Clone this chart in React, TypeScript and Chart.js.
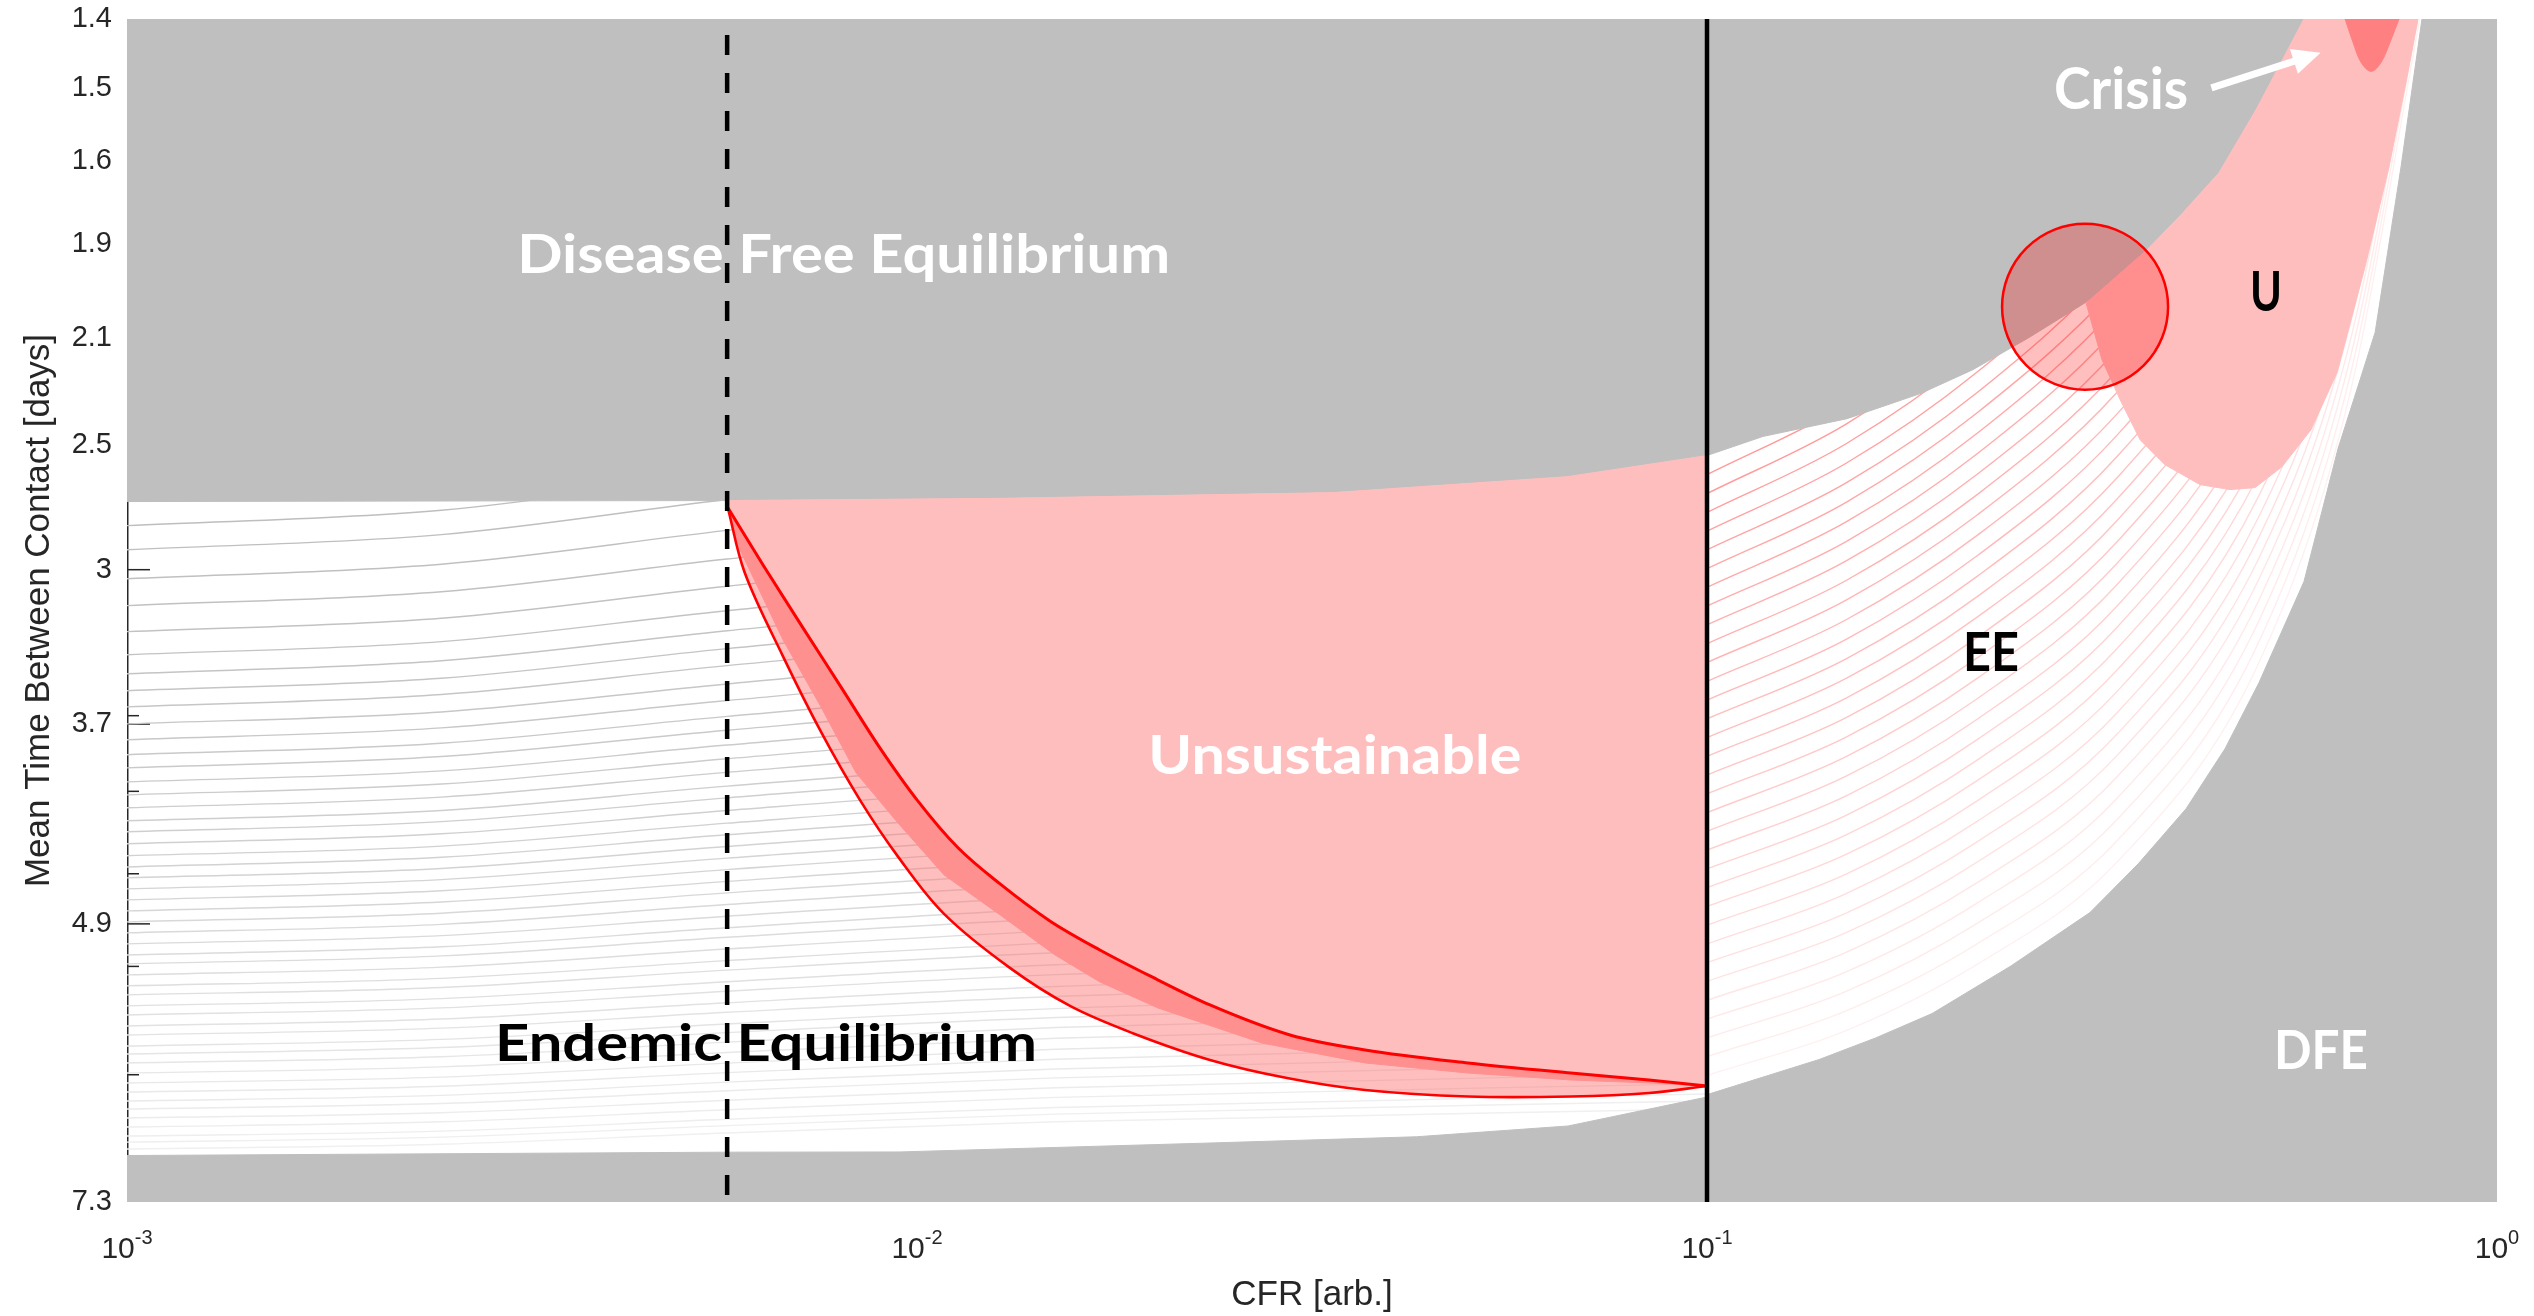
import React, { useEffect, useRef } from 'react';
import { Chart, registerables, LinearScale } from 'chart.js';

Chart.register(...registerables);

// ---------------- Axis ticks ----------------
const X_TICKS = [0.001, 0.01, 0.1, 1];
const X_TICK_EXPONENTS = ['-3', '-2', '-1', '0'];
const Y_TICK_DAYS = [1.4, 1.5, 1.6, 1.9, 2.1, 2.5, 3, 3.7, 4.9, 7.3];
const Y_TICK_LABELS = ['1.4', '1.5', '1.6', '1.9', '2.1', '2.5', '3', '3.7', '4.9', '7.3'];
// position of each labelled tick along the (non-uniform) y axis, 0 = top, 1 = bottom
const Y_TICK_AXIS_FRACTION = [0, 0.0582, 0.1203, 0.1904, 0.2693, 0.3604, 0.4655, 0.596, 0.7649, 1];
const Y_MINOR_TICK_DAYS = [3.662, 4.104, 4.599, 5.267, 6.202];

// ---------------- Regions: [CFR, days] ----------------
const DFE_UPPER: number[][] = [
  [0.001, 1.4], [0.001, 2.726], [0.00575, 2.722], [0.01274, 2.713], [0.03362, 2.69],
  [0.06651, 2.626], [0.1, 2.541], [0.1177, 2.467], [0.1504, 2.401], [0.1866, 2.307],
  [0.2171, 2.219], [0.2556, 2.1], [0.3053, 2.019], [0.3606, 1.912], [0.4004, 1.786],
  [0.4448, 1.641], [0.4953, 1.53], [0.5697, 1.4],
];
const DFE_LOWER: number[][] = [
  [0.8036, 1.4], [0.7561, 1.619], [0.701, 2.089], [0.671, 2.256], [0.6292, 2.513],
  [0.5697, 3.054], [0.4996, 3.513], [0.4526, 3.848], [0.404, 4.209], [0.3513, 4.54],
  [0.3053, 4.832], [0.2425, 5.263], [0.1927, 5.674], [0.1635, 5.884], [0.1387, 6.07],
  [0.1006, 6.368], [0.1, 6.394], [0.06672, 6.644], [0.04289, 6.737], [0.02349, 6.791],
  [0.009517, 6.868], [0.00575, 6.87], [0.001, 6.899], [0.001, 7.3], [1, 7.3], [1, 1.4],
];
const UNSUSTAINABLE_TOP: number[][] = [
  [0.00575, 2.722], [0.01274, 2.713], [0.03362, 2.69], [0.06651, 2.626], [0.1, 2.541],
];
const UPPER_RED: number[][] = [
  [0.00576, 2.75], [0.006402, 2.987], [0.007152, 3.257], [0.008003, 3.529], [0.008952, 3.835],
  [0.01, 4.155], [0.01127, 4.443], [0.01274, 4.66], [0.01473, 4.882], [0.01704, 5.125],
  [0.01972, 5.349], [0.02349, 5.6], [0.02966, 5.859], [0.03691, 5.988], [0.04983, 6.1],
  [0.06726, 6.187], [0.08445, 6.247], [0.1, 6.299],
];
const LOWER_RED: number[][] = [
  [0.00576, 2.75], [0.006053, 3.014], [0.006767, 3.393], [0.007569, 3.752], [0.008466, 4.155],
  [0.009461, 4.496], [0.01082, 4.84], [0.01311, 5.28], [0.01562, 5.608], [0.01872, 5.841],
  [0.02349, 6.074], [0.0294, 6.23], [0.03691, 6.333], [0.04983, 6.39], [0.06726, 6.39],
  [0.08445, 6.36], [0.1, 6.299],
];
const BAND_EDGE: number[][] = [
  [0.00576, 2.75], [0.005969, 2.92], [0.006767, 3.318], [0.007558, 3.622], [0.008373, 3.993],
  [0.009461, 4.294], [0.01082, 4.606], [0.01274, 4.846], [0.01495, 5.168], [0.01704, 5.401],
  [0.02018, 5.625], [0.02733, 5.928], [0.03691, 6.1], [0.04983, 6.187], [0.06726, 6.247],
  [0.08445, 6.273], [0.1, 6.299],
];
const U_REGION: number[][] = [
  [0.5697, 1.4], [0.4953, 1.53], [0.4448, 1.641], [0.4004, 1.786], [0.3606, 1.912],
  [0.3053, 2.019], [0.3018, 2.025], [0.3162, 2.182], [0.3333, 2.33], [0.3533, 2.479],
  [0.3799, 2.578], [0.4209, 2.658], [0.4592, 2.678], [0.4939, 2.67], [0.5343, 2.586],
  [0.5815, 2.442], [0.6274, 2.23], [0.6808, 1.948], [0.7301, 1.619], [0.7671, 1.492],
  [0.7943, 1.4],
];
const CRISIS: number[][] = [
  [0.6422, 1.4], [0.6573, 1.434], [0.6729, 1.463], [0.6928, 1.476], [0.7133, 1.463],
  [0.7343, 1.43], [0.7516, 1.4],
];
const CIRCLE_CENTER = [0.301, 2.034];
const DASHED_CFR = 0.00575;
const SOLID_CFR = 0.1;

// ---------------- Contour lines ----------------
const LEFT_CONTOUR_CFR = [0.001, 0.0025, 0.00575, 0.015, 0.1];
const LEFT_CONTOURS: number[][] = [
  [2.823, 2.761, 2.616, 2.474, 2.321], [2.92, 2.859, 2.718, 2.578, 2.423],
  [3.041, 2.978, 2.842, 2.705, 2.549], [3.163, 3.1, 2.957, 2.825, 2.674],
  [3.281, 3.22, 3.075, 2.939, 2.793], [3.386, 3.326, 3.186, 3.046, 2.899],
  [3.472, 3.413, 3.277, 3.14, 2.986], [3.549, 3.492, 3.358, 3.225, 3.073],
  [3.622, 3.566, 3.435, 3.304, 3.156], [3.699, 3.645, 3.518, 3.389, 3.244],
  [3.794, 3.723, 3.593, 3.469, 3.327], [3.884, 3.815, 3.665, 3.543, 3.404],
  [3.963, 3.895, 3.737, 3.608, 3.472], [4.047, 3.981, 3.826, 3.677, 3.544],
  [4.125, 4.06, 3.908, 3.756, 3.612], [4.203, 4.139, 3.99, 3.841, 3.678],
  [4.281, 4.219, 4.073, 3.928, 3.761], [4.347, 4.286, 4.143, 4.0, 3.836],
  [4.419, 4.359, 4.219, 4.079, 3.919], [4.491, 4.433, 4.295, 4.157, 4.0],
  [4.558, 4.5, 4.365, 4.231, 4.077], [4.624, 4.567, 4.435, 4.303, 4.152],
  [4.69, 4.634, 4.505, 4.375, 4.227], [4.756, 4.701, 4.574, 4.448, 4.302],
  [4.822, 4.769, 4.645, 4.521, 4.379], [4.888, 4.836, 4.714, 4.593, 4.454],
  [4.978, 4.904, 4.784, 4.665, 4.529], [5.073, 5.001, 4.854, 4.737, 4.604],
  [5.168, 5.098, 4.934, 4.809, 4.679], [5.245, 5.176, 5.016, 4.869, 4.741],
  [5.34, 5.273, 5.117, 4.96, 4.818], [5.435, 5.37, 5.217, 5.064, 4.893],
  [5.513, 5.449, 5.299, 5.149, 4.978], [5.608, 5.545, 5.399, 5.253, 5.086],
  [5.686, 5.625, 5.481, 5.338, 5.175], [5.781, 5.721, 5.581, 5.441, 5.283],
  [5.859, 5.8, 5.663, 5.527, 5.371], [5.954, 5.897, 5.764, 5.631, 5.479],
  [6.023, 5.967, 5.838, 5.708, 5.561], [6.1, 6.046, 5.92, 5.794, 5.65],
  [6.187, 6.134, 6.01, 5.887, 5.746], [6.273, 6.222, 6.102, 5.982, 5.846],
  [6.351, 6.301, 6.184, 6.068, 5.935], [6.428, 6.38, 6.266, 6.152, 6.023],
  [6.498, 6.45, 6.34, 6.229, 6.103], [6.575, 6.53, 6.422, 6.314, 6.191],
  [6.653, 6.608, 6.504, 6.397, 6.28], [6.731, 6.688, 6.586, 6.484, 6.368],
  [6.783, 6.74, 6.641, 6.542, 6.428], [6.843, 6.802, 6.705, 6.608, 6.498],
];
const RIGHT_CONTOUR_CFR = [0.1, 0.15, 0.22, 0.33, 0.5, 0.65, 0.8];
const RIGHT_CONTOURS: number[][] = [
  [2.618, 2.349, 2.042, 1.666, 1.363, 1.149, 0.931], [2.694, 2.421, 2.086, 1.743, 1.394, 1.173, 0.946],
  [2.77, 2.494, 2.151, 1.82, 1.424, 1.198, 0.96], [2.845, 2.572, 2.227, 1.897, 1.454, 1.224, 0.975],
  [2.92, 2.651, 2.303, 1.944, 1.485, 1.249, 0.989], [2.996, 2.729, 2.378, 1.99, 1.514, 1.274, 1.004],
  [3.08, 2.808, 2.454, 2.035, 1.543, 1.299, 1.018], [3.165, 2.887, 2.533, 2.081, 1.571, 1.324, 1.033],
  [3.25, 2.965, 2.615, 2.147, 1.599, 1.349, 1.047], [3.336, 3.049, 2.697, 2.226, 1.674, 1.374, 1.062],
  [3.421, 3.138, 2.779, 2.305, 1.749, 1.399, 1.076], [3.506, 3.227, 2.861, 2.385, 1.825, 1.424, 1.09],
  [3.591, 3.316, 2.943, 2.464, 1.9, 1.449, 1.105], [3.676, 3.404, 3.029, 2.547, 1.945, 1.474, 1.119],
  [3.781, 3.493, 3.121, 2.632, 1.99, 1.499, 1.134], [3.894, 3.582, 3.214, 2.718, 2.035, 1.522, 1.148],
  [4.006, 3.671, 3.306, 2.804, 2.079, 1.546, 1.163], [4.119, 3.778, 3.399, 2.89, 2.142, 1.569, 1.177],
  [4.232, 3.896, 3.492, 2.976, 2.219, 1.592, 1.192], [4.344, 4.013, 3.584, 3.069, 2.297, 1.642, 1.206],
  [4.457, 4.131, 3.677, 3.167, 2.374, 1.704, 1.221], [4.57, 4.248, 3.792, 3.263, 2.452, 1.766, 1.235],
  [4.683, 4.366, 3.915, 3.36, 2.531, 1.828, 1.249], [4.795, 4.483, 4.038, 3.457, 2.615, 1.891, 1.264],
  [4.911, 4.601, 4.16, 3.554, 2.7, 1.932, 1.278], [5.074, 4.718, 4.283, 3.651, 2.784, 1.968, 1.293],
  [5.235, 4.836, 4.406, 3.763, 2.867, 2.005, 1.307], [5.397, 4.976, 4.528, 3.891, 2.951, 2.042, 1.321],
  [5.559, 5.145, 4.651, 4.019, 3.04, 2.079, 1.336], [5.721, 5.314, 4.774, 4.148, 3.135, 2.127, 1.35],
  [5.884, 5.483, 4.896, 4.276, 3.229, 2.191, 1.365], [6.045, 5.651, 5.071, 4.404, 3.324, 2.255, 1.379],
  [6.207, 5.821, 5.247, 4.532, 3.419, 2.319, 1.394],
];

// ---------------- Annotations ----------------
const REGION_LABELS = [
  { text: 'Disease Free Equilibrium', cfr: 0.008075, days: 1.92, color: '#ffffff', size: 53, width: 653 },
  { text: 'Endemic Equilibrium', cfr: 0.006441, days: 5.919, color: '#000000', size: 52, width: 542 },
  { text: 'Unsustainable', cfr: 0.0338, days: 3.883, color: '#ffffff', size: 53, width: 373 },
  { text: 'EE', cfr: 0.2288, days: 3.372, color: '#000000', size: 54, width: 56 },
  { text: 'U', cfr: 0.5101, days: 2.001, color: '#000000', size: 56, width: 32 },
  { text: 'DFE', cfr: 0.5986, days: 5.988, color: '#ffffff', size: 53, width: 94 },
  { text: 'Crisis', cfr: 0.3343, days: 1.501, color: '#ffffff', size: 58, width: 134 },
];
const CRISIS_ARROW = { from: [0.435, 1.5], to: [0.598, 1.449] };

// ---------------- Non-uniform y scale ----------------
function daysToFraction(v: number) {
  const d = Y_TICK_DAYS, f = Y_TICK_AXIS_FRACTION;
  let i = 0;
  while (i < d.length - 2 && v > d[i + 1]) i++;
  return f[i] + ((v - d[i]) * (f[i + 1] - f[i])) / (d[i + 1] - d[i]);
}
function fractionToDays(t: number) {
  const d = Y_TICK_DAYS, f = Y_TICK_AXIS_FRACTION;
  let i = 0;
  while (i < f.length - 2 && t > f[i + 1]) i++;
  return d[i] + ((t - f[i]) * (d[i + 1] - d[i])) / (f[i + 1] - f[i]);
}

class WarpScale extends (LinearScale as any) {
  static id = 'warp';
  static defaults = {};
  getPixelForValue(value: any) {
    if (value === null || value === undefined || Number.isNaN(+value)) return NaN;
    return (this as any).getPixelForDecimal(daysToFraction(+value));
  }
  getValueForPixel(pixel: number) {
    return fractionToDays((this as any).getDecimalForPixel(pixel));
  }
}
Chart.register(WarpScale as any);

const AXIS_FONT = '"Liberation Sans", Arial, sans-serif';
const LABEL_FONT = 'Lato, "Open Sans", sans-serif';

const pts = (arr: number[][]) => arr.map(([x, y]) => ({ x, y }));
const rev = (arr: number[][]) => arr.slice().reverse();

function drawLabels(chart: any) {
  const { ctx } = chart;
  const xs = chart.scales.x, ys = chart.scales.y;
  ctx.save();
  for (const lb of REGION_LABELS) {
    ctx.font = `bold ${lb.size}px ${LABEL_FONT}`;
    const w = ctx.measureText(lb.text).width;
    const px = xs.getPixelForValue(lb.cfr);
    const py = ys.getPixelForValue(lb.days);
    ctx.save();
    ctx.translate(px, py + lb.size * 0.358);
    ctx.scale(lb.width / w, 1);
    ctx.textAlign = 'center';
    ctx.textBaseline = 'alphabetic';
    ctx.fillStyle = lb.color;
    ctx.fillText(lb.text, 0, 0);
    ctx.restore();
  }
  const ax = xs.getPixelForValue(CRISIS_ARROW.from[0]);
  const ay = ys.getPixelForValue(CRISIS_ARROW.from[1]);
  const bx = xs.getPixelForValue(CRISIS_ARROW.to[0]);
  const by = ys.getPixelForValue(CRISIS_ARROW.to[1]);
  const len = Math.hypot(bx - ax, by - ay);
  const ux = (bx - ax) / len, uy = (by - ay) / len;
  const head = 28, half = 13;
  const hx = bx - ux * head, hy = by - uy * head;
  ctx.strokeStyle = '#ffffff';
  ctx.lineWidth = 7;
  ctx.beginPath();
  ctx.moveTo(ax, ay);
  ctx.lineTo(hx + ux * 2, hy + uy * 2);
  ctx.stroke();
  ctx.fillStyle = '#ffffff';
  ctx.beginPath();
  ctx.moveTo(bx, by);
  ctx.lineTo(hx - uy * half, hy + ux * half);
  ctx.lineTo(hx + uy * half, hy - ux * half);
  ctx.closePath();
  ctx.fill();
  ctx.restore();
}

// y axis line and inward tick marks, drawn beneath the region patches (as in the original)
function drawYAxisUnderlay(chart: any) {
  const { ctx, chartArea } = chart;
  const ys = chart.scales.y;
  ctx.save();
  ctx.strokeStyle = '#262626';
  ctx.lineWidth = 1.5;
  const ax = chartArea.left + 0.75;
  ctx.beginPath();
  ctx.moveTo(ax, chartArea.top);
  ctx.lineTo(ax, chartArea.bottom);
  ctx.stroke();
  const ticks = [
    ...Y_TICK_DAYS.map((v) => ({ v, len: 23 })),
    ...Y_MINOR_TICK_DAYS.map((v) => ({ v, len: 12 })),
  ];
  for (const t of ticks) {
    let py = ys.getPixelForValue(t.v);
    py = Math.min(Math.max(py, chartArea.top + 1), chartArea.bottom - 1);
    ctx.beginPath();
    ctx.moveTo(chartArea.left, py);
    ctx.lineTo(chartArea.left + t.len, py);
    ctx.stroke();
  }
  ctx.restore();
}

function drawXTickLabels(chart: any) {
  const { ctx, chartArea } = chart;
  const xs = chart.scales.x;
  ctx.save();
  ctx.fillStyle = '#262626';
  ctx.textAlign = 'left';
  ctx.textBaseline = 'alphabetic';
  X_TICKS.forEach((v, i) => {
    const px = xs.getPixelForValue(v);
    const exp = X_TICK_EXPONENTS[i];
    ctx.font = `30px ${AXIS_FONT}`;
    const w1 = ctx.measureText('10').width;
    ctx.font = `20px ${AXIS_FONT}`;
    const w2 = ctx.measureText(exp).width;
    const left = px - (w1 + w2) / 2;
    ctx.font = `30px ${AXIS_FONT}`;
    ctx.fillText('10', left, chartArea.bottom + 56);
    ctx.font = `20px ${AXIS_FONT}`;
    ctx.fillText(exp, left + w1, chartArea.bottom + 42);
  });
  ctx.restore();
}

const overlayPlugin = {
  id: 'overlay',
  beforeDatasetsDraw(chart: any) {
    drawYAxisUnderlay(chart);
  },
  beforeDatasetDraw(chart: any, args: any) {
    const ds = chart.data.datasets[args.index];
    if (ds && ds.labelsBefore) drawLabels(chart);
  },
  afterDraw(chart: any) {
    drawXTickLabels(chart);
  },
};

function buildDatasets() {
  const layers: any[] = [];
  const line = { pointRadius: 0, fill: false, borderCapStyle: 'butt' };
  const poly = (data: number[][], color: string, border = true) => ({
    data: pts(data),
    fill: 'shape',
    backgroundColor: color,
    borderColor: border ? color : 'rgba(0,0,0,0)',
    borderWidth: border ? 1 : 0,
    pointRadius: 0,
    tension: 0,
  });

  const nL = LEFT_CONTOURS.length;
  LEFT_CONTOURS.forEach((row, i) => {
    const g = Math.round(190 + (50 * i) / (nL - 1));
    layers.push({
      ...line,
      data: row.map((y, j) => ({ x: LEFT_CONTOUR_CFR[j], y })),
      borderColor: `rgb(${g},${g},${g})`,
      borderWidth: 1.4,
      cubicInterpolationMode: 'monotone',
    });
  });
  const nR = RIGHT_CONTOURS.length;
  RIGHT_CONTOURS.forEach((row, i) => {
    const a = 0.4 - (0.34 * i) / (nR - 1);
    layers.push({
      ...line,
      data: row.map((y, j) => ({ x: RIGHT_CONTOUR_CFR[j], y })),
      borderColor: `rgba(255,0,0,${a.toFixed(3)})`,
      borderWidth: 1.4,
      cubicInterpolationMode: 'monotone',
    });
  });

  layers.push(poly(DFE_UPPER, '#bfbfbf'));
  layers.push(poly(DFE_LOWER, '#bfbfbf'));
  layers.push(poly([...UNSUSTAINABLE_TOP, ...rev(UPPER_RED)], '#ffbebe'));
  layers.push(poly([...UPPER_RED, ...rev(LOWER_RED)], 'rgba(255,110,110,0.45)', false));
  layers.push(poly([...UPPER_RED, ...rev(BAND_EDGE)], '#ff9090'));
  layers.push(poly(U_REGION, '#ffbebe'));
  layers.push({ ...poly(CRISIS, '#ff8080'), tension: 0.35 });

  layers.push({ ...line, data: pts(UPPER_RED), borderColor: '#ff0000', borderWidth: 3, tension: 0.35, cubicInterpolationMode: 'monotone' });
  layers.push({ ...line, data: pts(LOWER_RED), borderColor: '#ff0000', borderWidth: 2.6, tension: 0.35 });

  layers.push({
    ...line,
    labelsBefore: true,
    data: [{ x: DASHED_CFR, y: 1.4 }, { x: DASHED_CFR, y: 7.3 }],
    borderColor: '#000000',
    borderWidth: 4.5,
    borderDash: [20, 18],
    borderDashOffset: 22,
  });
  layers.push({
    ...line,
    data: [{ x: SOLID_CFR, y: 1.4 }, { x: SOLID_CFR, y: 7.3 }],
    borderColor: '#000000',
    borderWidth: 4.5,
  });
  layers.push({
    data: [{ x: CIRCLE_CENTER[0], y: CIRCLE_CENTER[1] }],
    showLine: false,
    pointRadius: 83,
    pointHoverRadius: 83,
    pointBackgroundColor: 'rgba(255,0,0,0.25)',
    pointBorderColor: '#ff0000',
    pointBorderWidth: 2.5,
  });

  return layers.map((d, i) => ({ ...d, order: layers.length - i }));
}

export default function App() {
  const ref = useRef<HTMLCanvasElement>(null);
  useEffect(() => {
    const chart = new Chart(ref.current as HTMLCanvasElement, {
      type: 'line',
      data: { datasets: buildDatasets() as any },
      options: {
        responsive: false,
        animation: false,
        events: [],
        layout: { autoPadding: false, padding: { left: 0, right: 37, top: 19, bottom: 0 } },
        plugins: { legend: { display: false }, tooltip: { enabled: false } },
        scales: {
          x: {
            type: 'logarithmic',
            min: 0.001,
            max: 1,
            afterBuildTicks: (s: any) => { s.ticks = X_TICKS.map((v) => ({ value: v })); },
            afterFit: (s: any) => {
              s.height = 114;
              s.paddingLeft = 0; s.paddingRight = 0; s.paddingTop = 0; s.paddingBottom = 0;
            },
            ticks: { display: false },
            grid: { display: false },
            border: { display: false },
            title: {
              display: true,
              text: 'CFR [arb.]',
              color: '#262626',
              font: { family: AXIS_FONT, size: 35, lineHeight: 1.2 },
              padding: { top: 0, bottom: 0 },
            },
          },
          y: {
            type: 'warp' as any,
            min: 1.4,
            max: 7.3,
            reverse: true,
            afterBuildTicks: (s: any) => { s.ticks = Y_TICK_DAYS.map((v) => ({ value: v })); },
            afterFit: (s: any) => {
              s.width = 127;
              s.paddingLeft = 0; s.paddingRight = 0; s.paddingTop = 0; s.paddingBottom = 0;
            },
            ticks: {
              autoSkip: false,
              padding: 15,
              color: '#262626',
              font: { family: AXIS_FONT, size: 29 },
              callback: (value: any) => {
                const i = Y_TICK_DAYS.indexOf(+value);
                return i >= 0 ? Y_TICK_LABELS[i] : '';
              },
            },
            grid: { display: false, drawTicks: false },
            border: { display: false },
            title: {
              display: true,
              text: 'Mean Time Between Contact [days]',
              color: '#262626',
              font: { family: AXIS_FONT, size: 35, lineHeight: 1.2 },
              padding: { top: 18, bottom: 0 },
            },
          },
        } as any,
      },
      plugins: [overlayPlugin as any],
    });
    return () => chart.destroy();
  }, []);
  return (
    <div style={{ position: 'fixed', left: 0, top: 0, width: 2534, height: 1316, background: '#ffffff' }}>
      <canvas ref={ref} width={2534} height={1316} style={{ display: 'block' }} />
    </div>
  );
}
